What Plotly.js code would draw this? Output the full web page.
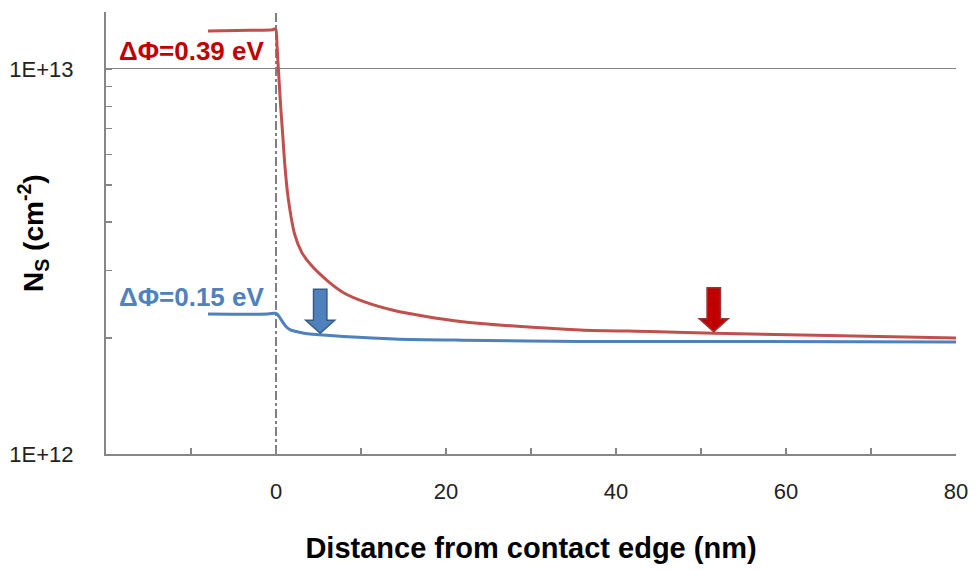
<!DOCTYPE html>
<html>
<head>
<meta charset="utf-8">
<script src="https://cdn.plot.ly/plotly-3.0.1.min.js"></script>
<style>
  html, body { margin: 0; padding: 0; background: #fff; }
  #chart { width: 977px; height: 571px; }
</style>
</head>
<body>
<div id="chart"></div>
<script>
// Sheet carrier density along the channel, for two contact barrier offsets.
// Distance from the contact edge in nm, N_S in cm^-2.
const redX = [-8, -3, -0.4, -0.05, 0.12, 0.27, 0.55, 0.82, 1.02, 1.41, 2.2, 3.0, 4.1, 6.2, 8.0, 10.5, 13.9, 17.5, 21.7, 28, 35.8, 44, 51.5, 65, 80];
const redY = [1.255e13, 1.26e13, 1.265e13, 1.272e13, 1.15e13, 1.006e13, 8.0e12, 6.6e12, 5.7e12, 4.66e12, 3.72e12, 3.35e12, 3.1e12, 2.8e12, 2.62e12, 2.48e12, 2.36e12, 2.28e12, 2.21e12, 2.15e12, 2.10e12, 2.08e12, 2.06e12, 2.03e12, 2.00e12];

const blueX = [-8, -1, -0.1, 0.2, 0.62, 1.2, 1.7, 2.39, 3.5, 5.1, 7.9, 13.9, 22, 35.8, 55, 80];
const blueY = [2.31e12, 2.31e12, 2.32e12, 2.30e12, 2.23e12, 2.14e12, 2.10e12, 2.08e12, 2.055e12, 2.04e12, 2.02e12, 1.99e12, 1.975e12, 1.96e12, 1.96e12, 1.955e12];

const redLabel = 'ΔΦ=0.39 eV';
const blueLabel = 'ΔΦ=0.15 eV';

// Positions (nm) marked by the block arrows
const blueArrowX = 5.2;
const redArrowX = 51.5;

const xTickVals = [0, 20, 40, 60, 80];
const yTickVals = [1e12, 1e13];
const yTickText = ['1E+12', '1E+13'];
const yMinorVals = [2e12, 3e12, 4e12, 5e12, 6e12, 7e12, 8e12, 9e12];

const xRange = [-20, 80];
const yRange = [12, 13.148];   // log10 units

const RED = '#c0504d', BLUE = '#4f81bd', AXIS = '#868686';
const FONT = 'Liberation Sans, Arial, sans-serif';

const W = 977, H = 571;
const margin = { l: 106, r: 21, t: 12, b: 117 };
const plotW = W - margin.l - margin.r;
const plotH = H - margin.t - margin.b;

// interpolate a curve (log-y) at x
function curveAt(xs, ys, x) {
  for (let i = 0; i < xs.length - 1; i++) {
    if (x >= xs[i] && x <= xs[i + 1]) {
      const t = (x - xs[i]) / (xs[i + 1] - xs[i]);
      return Math.pow(10, Math.log10(ys[i]) + t * (Math.log10(ys[i + 1]) - Math.log10(ys[i])));
    }
  }
  return ys[ys.length - 1];
}
function toPaperY(v) { return (Math.log10(v) - yRange[0]) / (yRange[1] - yRange[0]); }

// block arrow pointing down onto a curve
function blockArrow(xc, xs, ys, fill, edge) {
  const nmPerPx = (xRange[1] - xRange[0]) / plotW;
  const sw = 6.7 * nmPerPx, hw = 14.5 * nmPerPx;
  const tip = toPaperY(curveAt(xs, ys, xc)) + 1.5 / plotH;
  const base = tip + 13 / plotH, top = tip + 44 / plotH;
  const p = [[xc - sw, top], [xc + sw, top], [xc + sw, base], [xc + hw, base], [xc, tip], [xc - hw, base], [xc - sw, base]];
  return {
    type: 'path', xref: 'x', yref: 'paper', layer: 'above',
    path: 'M ' + p.map(q => q[0] + ',' + q[1]).join(' L ') + ' Z',
    fillcolor: fill, line: { color: edge, width: 1.5 }
  };
}

const traces = [
  { x: redX, y: redY, type: 'scatter', mode: 'lines', line: { color: RED, width: 3, shape: 'spline', smoothing: 0.8 }, hoverinfo: 'skip' },
  { x: blueX, y: blueY, type: 'scatter', mode: 'lines', line: { color: BLUE, width: 3, shape: 'spline', smoothing: 0.8 }, hoverinfo: 'skip' }
];

const layout = {
  width: W, height: H, margin: margin,
  paper_bgcolor: '#fff', plot_bgcolor: '#fff',
  showlegend: false,
  font: { family: FONT, color: '#222' },
  xaxis: {
    range: xRange, showline: true, linecolor: AXIS, linewidth: 2,
    zeroline: false, showgrid: false,
    tickmode: 'array', tickvals: xTickVals,
    ticks: 'inside', ticklen: 6, tickwidth: 1.5, tickcolor: AXIS,
    ticklabelstandoff: 17,
    tickfont: { size: 22, family: FONT, color: '#222' },
    minor: { tickmode: 'linear', tick0: 0, dtick: 10, ticks: 'inside', ticklen: 6, tickwidth: 1.5, tickcolor: AXIS, showgrid: false },
    title: { text: 'Distance from contact edge (nm)', font: { size: 29, family: FONT, color: '#000', weight: 'bold' }, standoff: 34 }
  },
  yaxis: {
    type: 'log', range: yRange, showline: true, linecolor: AXIS, linewidth: 2,
    zeroline: false, showgrid: true, gridcolor: AXIS, gridwidth: 1,
    tickmode: 'array', tickvals: yTickVals, ticktext: yTickText,
    ticks: 'inside', ticklen: 6, tickwidth: 1.5, tickcolor: AXIS,
    ticklabelstandoff: 26,
    tickfont: { size: 22, family: FONT, color: '#222' },
    minor: { tickmode: 'array', tickvals: yMinorVals.concat([Math.pow(10, yRange[1])]), ticks: 'inside', ticklen: 6, tickwidth: 1.5, tickcolor: AXIS, showgrid: false }
  },
  shapes: [
    { type: 'line', xref: 'x', yref: 'paper', x0: 0, x1: 0, y0: 0, y1: 1, layer: 'below',
      line: { color: '#000', width: 1, dash: 'dashdot' } },
    blockArrow(blueArrowX, blueX, blueY, '#4f81bd', '#385d8a'),
    blockArrow(redArrowX, redX, redY, '#c00000', '#943634')
  ],
  annotations: [
    { text: '<b>' + redLabel + '</b>', xref: 'x', yref: 'paper', x: -1.2, y: (H - margin.b - 51) / plotH,
      xanchor: 'right', yanchor: 'middle', showarrow: false, font: { size: 26, family: FONT, color: '#c00000' } },
    { text: '<b>' + blueLabel + '</b>', xref: 'x', yref: 'paper', x: -1.2, y: (H - margin.b - 297) / plotH,
      xanchor: 'right', yanchor: 'middle', showarrow: false, font: { size: 26, family: FONT, color: BLUE } },
    { text: '<b>N<sub>S</sub> (cm<sup>-2</sup>)</b>', xref: 'paper', yref: 'paper', x: (33 - margin.l) / plotW, y: 0.5,
      textangle: -90, showarrow: false, xanchor: 'center', yanchor: 'middle',
      font: { size: 28, family: FONT, color: '#000' } }
  ]
};

Plotly.newPlot('chart', traces, layout, { staticPlot: true, displayModeBar: false });
</script>
</body>
</html>
